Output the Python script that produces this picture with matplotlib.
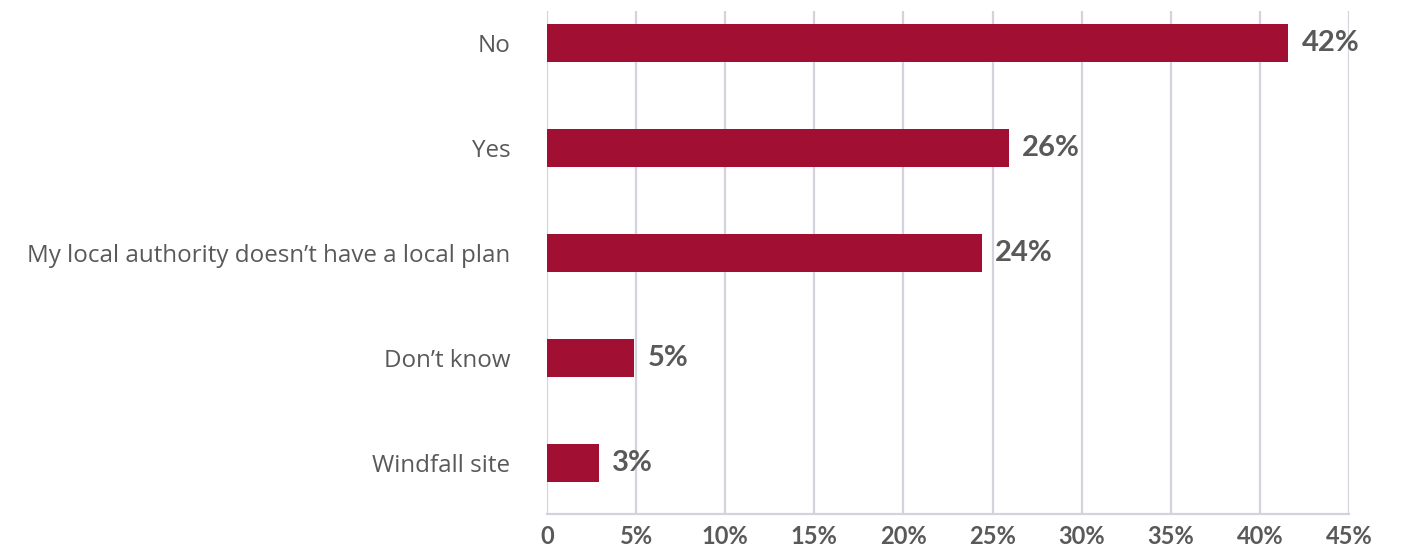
import matplotlib
matplotlib.use("Agg")
import matplotlib.pyplot as plt
from matplotlib.ticker import FixedLocator

# Survey responses (share of respondents, %)
categories = [
    "No",
    "Yes",
    "My local authority doesn\u2019t have a local plan",
    "Don\u2019t know",
    "Windfall site",
]
values = [41.6, 25.9, 24.4, 4.9, 2.9]
tick_values = [0, 5, 10, 15, 20, 25, 30, 35, 40, 45]
tick_labels = ["0"] + [f"{v}%" for v in tick_values[1:]]

BAR = "#A10F32"
TEXT = "#595959"
GRID = "#D3D3DF"

plt.rcParams["font.family"] = ["Open Sans", "DejaVu Sans"]

W, H = 1420, 547
fig = plt.figure(figsize=(W / 100, H / 100), dpi=100)
ax = fig.add_axes([547 / W, (H - 514) / H, (1349 - 547) / W, (514 - 11) / H])

ypos = list(range(len(categories)))
ax.barh(ypos, values, height=0.36, color=BAR, zorder=3)

for y, v in zip(ypos, values):
    ax.text(v + 0.75, y, f"{round(v)}%", va="center", ha="left",
            fontsize=21, color=TEXT, fontweight="bold",
            family=["Lato", "DejaVu Sans"])

ax.set_xlim(0, 45)
ax.set_ylim(4 + 51 / 105, -32 / 105)
ax.xaxis.set_major_locator(FixedLocator(tick_values))
ax.set_xticklabels(tick_labels)
ax.set_yticks(ypos)
ax.set_yticklabels(categories)

ax.grid(axis="x", color=GRID, linewidth=1.6, zorder=0)
ax.grid(axis="y", visible=False)
for side in ("top", "right", "left"):
    ax.spines[side].set_visible(False)
ax.spines["bottom"].set_color(GRID)
ax.spines["bottom"].set_linewidth(1.6)
ax.tick_params(axis="both", length=0, colors=TEXT)
ax.tick_params(axis="x", labelsize=17, pad=8)
ax.tick_params(axis="y", labelsize=17.4, pad=26.5)
for lab in ax.get_xticklabels():
    lab.set_family(["Lato", "DejaVu Sans"])
    lab.set_fontweight("bold")

fig.savefig("out.png", dpi=100, facecolor="white")
